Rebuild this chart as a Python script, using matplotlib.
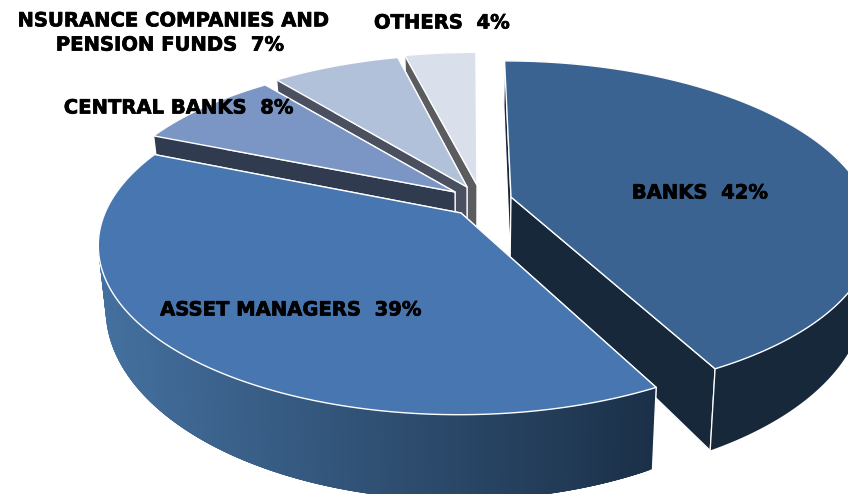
import numpy as np
import matplotlib
matplotlib.use("Agg")
import matplotlib.pyplot as plt
import matplotlib.patheffects as pe
import matplotlib.transforms as mtrans
from matplotlib.colors import to_rgb
from matplotlib.patches import Polygon

# ---- data ----
categories = ["BANKS", "ASSET MANAGERS", "CENTRAL BANKS",
              "INSURANCE COMPANIES AND\nPENSION FUNDS", "OTHERS"]
shares = [42, 39, 8, 7, 4]                 # as labelled
shares_unrounded = [42.45, 38.95, 8.0, 7.0, 3.8]

# ---- styling / layout ----
top_colors = ["#3a6391", "#4776b0", "#7b96c4", "#b2c1da", "#d9dfeb"]
wall_colors = ["#18283b", None, "#303b50", "#4a5060", "#5a5c60"]
grad_start, grad_end = "#44709f", "#1b3048"
offset_x = [41, -9, -15, -3, 7]
offset_y = [-8, 8, -13, -18, -20]
radius_x = [0.965, 0.97, 0.955, 0.95, 0.97]
radius_y = [0.985, 1.0, 0.96, 0.96, 0.96]
label_xy = [(700, 193), (291, 310), (179, 108), (170, 33), (442, 23)]
centre = (470, 205)
vanish_x = 470
R = 367.0
k = 164.0 / 367.0
D = 5.35
H = 60.0
base_shrink = 0.98

fig = plt.figure(figsize=(8.48, 4.94), dpi=100)
ax = fig.add_axes([0, 0, 1, 1])
ax.set_xlim(0, 848)
ax.set_ylim(494, 0)
ax.axis("off")


def project(i, theta):
    t = np.radians(theta)
    wx = R * radius_x[i] * np.sin(t)
    wy = -np.cos(t)                # +1 toward the viewer
    p = D / (D - wy)
    ax0 = centre[0] + offset_x[i] - vanish_x
    ay0 = centre[1] + offset_y[i]
    return vanish_x + (ax0 + wx) * p, ay0 + k * R * radius_y[i] * wy * p, p


def base(x, y, p):
    return vanish_x + (x - vanish_x) * base_shrink, y + H * p ** 1.7


def apex(i):
    return centre[0] + offset_x[i], centre[1] + offset_y[i]


def lerp(c1, c2, f):
    a, b = np.array(to_rgb(c1)), np.array(to_rgb(c2))
    return tuple(a + (b - a) * float(np.clip(f, 0, 1)))


def add_poly(pts, fc, ec="none", lw=0.0, z=1):
    ax.add_patch(Polygon(pts, closed=True, facecolor=fc, edgecolor=ec, linewidth=lw,
                         zorder=z, joinstyle="round"))


edges = np.concatenate([[0], np.cumsum(shares_unrounded)]) * 360.0 / sum(shares_unrounded)
order = [0, 4, 3, 2, 1]          # painter's order
z = 1
for i in order:
    a0, a1 = edges[i], edges[i + 1]
    th = np.linspace(a0, a1, max(int((a1 - a0) * 2), 24))
    x, y, p = project(i, th)
    bx, by = base(x, y, p)
    axp, ayp = apex(i)
    abx, aby = base(np.array([axp]), np.array([ayp]), np.array([1.0]))
    abx, aby = abx[0], aby[0]

    wall = wall_colors[i] or grad_end
    # radial walls: the nearer one last
    ends = sorted([0, -1], key=lambda e: y[e])
    for e in ends:
        add_poly([(axp, ayp), (x[e], y[e]), (bx[e], by[e]), (abx, aby)], wall, "white", 0.9, z)
        z += 1

    # outer wall
    if wall_colors[i] is None:
        n = len(th)
        for j in range(n - 1):
            f = (0.5 * (x[j] + x[j + 1]) - 100) / 555.0
            c = lerp(grad_start, grad_end, f)
            m = min(j + 4, n - 1)
            add_poly(list(zip(x[j:m + 1], y[j:m + 1])) + list(zip(bx[j:m + 1][::-1], by[j:m + 1][::-1])),
                     c, "none", 0.0, z)
            z += 1
    else:
        add_poly(list(zip(x, y)) + list(zip(bx[::-1], by[::-1])), wall, "none", 0.0, z)
        z += 1
    # corners where the outer wall meets the radial walls
    for e in (0, -1):
        ax.plot([x[e], bx[e]], [y[e], by[e]], color="white", lw=0.9, zorder=z)
    z += 1

    # top face
    pts = [(axp, ayp)] + list(zip(x, y))
    add_poly(pts, top_colors[i], "white", 1.0, z)
    z += 1

for idx, (name, val, (lx, ly)) in enumerate(zip(categories, shares, label_xy)):
    t = ax.text(lx, ly, f"{name}  {val}%", ha="center", va="center", fontsize=14.1,
                family="DejaVu Sans", fontweight="bold", color="black", zorder=z,
                linespacing=1.35, clip_on=False)
    t.set_path_effects([pe.withStroke(linewidth=0.5, foreground="black")])
    if idx == 3:  # the reference cuts this label off at its left end
        t.set_clip_on(True)
        t.set_clip_box(mtrans.TransformedBbox(mtrans.Bbox([[19, 494], [848, 0]]), ax.transData))

fig.savefig("out.png", dpi=100, facecolor="white")
